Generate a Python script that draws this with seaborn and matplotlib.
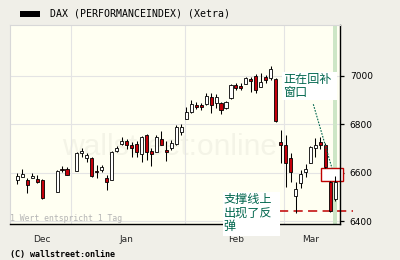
import numpy as np
import pandas as pd
import matplotlib
matplotlib.use("Agg")
import matplotlib.pyplot as plt
import seaborn as sns
from matplotlib.patches import Rectangle

# ---------------- data ----------------
dates = ["2006-12-15", "2006-12-18", "2006-12-19", "2006-12-20", "2006-12-21", "2006-12-22",
         "2006-12-27", "2006-12-28", "2006-12-29",
         "2007-01-02", "2007-01-03", "2007-01-04", "2007-01-05",
         "2007-01-08", "2007-01-09", "2007-01-10", "2007-01-11", "2007-01-12",
         "2007-01-15", "2007-01-16", "2007-01-17", "2007-01-18", "2007-01-19",
         "2007-01-22", "2007-01-23", "2007-01-24", "2007-01-25", "2007-01-26",
         "2007-01-29", "2007-01-30", "2007-01-31", "2007-02-01", "2007-02-02",
         "2007-02-05", "2007-02-06", "2007-02-07", "2007-02-08", "2007-02-09",
         "2007-02-12", "2007-02-13", "2007-02-14", "2007-02-15", "2007-02-16",
         "2007-02-19", "2007-02-20", "2007-02-21", "2007-02-22", "2007-02-23",
         "2007-02-26", "2007-02-27", "2007-02-28", "2007-03-01", "2007-03-02",
         "2007-03-05", "2007-03-06", "2007-03-07", "2007-03-08", "2007-03-09",
         "2007-03-12", "2007-03-13", "2007-03-14", "2007-03-15"]

opens = [6570, 6584, 6570, 6577, 6573, 6570,
         6521, 6615, 6614,
         6608, 6680, 6660, 6660,
         6608, 6611, 6577, 6570, 6690,
         6719, 6732, 6715, 6719, 6679,
         6754, 6691, 6687, 6741, 6694,
         6701, 6717, 6770, 6821, 6852,
         6880, 6878, 6884, 6913, 6890,
         6890, 6866, 6908, 6963, 6960,
         6967, 6986, 7002, 6955, 6995,
         6993, 6988, 6728, 6715, 6660,
         6505, 6556, 6602, 6639, 6703,
         6728, 6715, 6563, 6491]

highs = [6600, 6614, 6577, 6597, 6590, 6574,
         6611, 6628, 6625,
         6686, 6701, 6680, 6664,
         6632, 6632, 6590, 6691, 6712,
         6746, 6739, 6728, 6732, 6752,
         6758, 6701, 6756, 6774, 6732,
         6735, 6797, 6801, 6873, 6901,
         6894, 6890, 6928, 6928, 6926,
         6894, 6895, 6967, 6972, 6970,
         6997, 6997, 7010, 7011, 7004,
         7041, 6992, 6777, 6756, 6680,
         6563, 6611, 6635, 6712, 6745,
         6746, 6723, 6566, 6588]

lows = [6553, 6581, 6517, 6576, 6556, 6490,
        6520, 6604, 6591,
        6607, 6666, 6645, 6583,
        6577, 6604, 6528, 6569, 6687,
        6715, 6698, 6666, 6666, 6645,
        6652, 6628, 6686, 6715, 6648,
        6694, 6715, 6756, 6820, 6848,
        6862, 6860, 6882, 6848, 6868,
        6843, 6865, 6906, 6942, 6942,
        6966, 6935, 6930, 6953, 6972,
        6984, 6811, 6639, 6542, 6563,
        6432, 6535, 6583, 6638, 6666,
        6698, 6620, 6436, 6483]

closes = [6586, 6594, 6549, 6586, 6561, 6496,
          6607, 6610, 6592,
          6683, 6690, 6673, 6588,
          6602, 6622, 6563, 6687, 6701,
          6732, 6713, 6701, 6687, 6748,
          6684, 6677, 6749, 6716, 6686,
          6722, 6787, 6787, 6849, 6884,
          6873, 6871, 6917, 6878, 6913,
          6859, 6894, 6963, 6952, 6952,
          6990, 6979, 6940, 6976, 6985,
          7028, 6815, 6715, 6639, 6604,
          6532, 6593, 6615, 6708, 6715,
          6715, 6622, 6442, 6560]

month_starts = ["2007-01-01", "2007-02-01", "2007-03-01"]
month_labels = ["Dec", "Jan", "Feb", "Mar"]
month_label_dates = ["2006-12-22", "2007-01-16", "2007-02-15", "2007-03-08"]
y_ticks = [6400, 6600, 6800, 7000]

support_level = 6441
gap_top = 6620
gap_bottom = 6566
highlight_date = "2007-03-15"

title = "DAX (PERFORMANCEINDEX) (Xetra)"
note_gap = ["正在回补", "窗口"]
note_support = ["支撑线上", "出现了反", "弹"]

# ---------------- frame ----------------
df = pd.DataFrame({"date": pd.to_datetime(dates), "open": opens, "high": highs,
                   "low": lows, "close": closes})
origin = np.datetime64(dates[0], "D")
def idx(d):
    return float(np.busday_count(origin, np.datetime64(d, "D")))
df["x"] = [idx(d) for d in dates]
df["up"] = df["close"] >= df["open"]

sns.set_style("white")
plt.rcParams["font.family"] = ["DejaVu Sans"]

W, H = 400, 260
fig = plt.figure(figsize=(4, 2.6), dpi=100)
BG = "#f0efe8"
PBG = "#fffff2"
fig.patch.set_facecolor(BG)

def fx(px):
    return px / W
def fy(py):
    return 1 - py / H

ax = fig.add_axes([fx(10), fy(224), (340 - 10) / W, (224 - 25) / H])
ax.set_facecolor(PBG)

x0, x1 = -1.47, 64.94
ax.set_xlim(x0, x1)
ax.set_ylim(6387.6, 7211)

# grid
GRID = "#e4e4e4"
tick_x = [idx(d) - 0.25 for d in month_starts]
for t in tick_x:
    ax.axvline(t, color=GRID, lw=0.8, zorder=0.6)
for v in y_ticks:
    ax.axhline(v, color=GRID, lw=0.8, zorder=0.6)

# watermark
ax.text(0.1576, 0.3467, "wallstreet:online", transform=ax.transAxes,
        family="Liberation Sans", fontsize=21.6, color="#f4f4e7",
        va="baseline", ha="left", zorder=0.5)

# highlighted last day
hx = idx(highlight_date)
ax.axvspan(hx - 0.4, hx + 0.4, color="#cde6c6", lw=0, zorder=0.7)

# gap box
ax.add_patch(Rectangle((61.18, gap_bottom), 65.55 - 61.18, gap_top - gap_bottom,
                       facecolor="white", edgecolor="#c00000", lw=1.0,
                       zorder=2.5, clip_on=False))

# support line
ax.plot([46.8, 67.6], [support_level, support_level], color="#c00000", lw=1.1,
        dashes=(6, 3.5), zorder=2.4, clip_on=False)

# candles
ax.vlines(df["x"], df["low"], df["high"], color="black", lw=0.75, zorder=3)
bw = 0.62
body_bottom = np.minimum(df["open"], df["close"])
body_h = np.maximum(np.abs(df["close"] - df["open"]), 1.5)
colors = np.where(df["up"], "#ffffff", "#c4000b")
ax.bar(df["x"], body_h, bottom=body_bottom, width=bw, color=colors,
       edgecolor="black", linewidth=0.6, zorder=4)

# dotted pointer
ax.plot([59.57, 63.33], [6883, 6618], color="#00664d", lw=0.8,
        linestyle=(0, (1.5, 1.2)), zorder=5)

# axes styling
for s in ["top", "left"]:
    ax.spines[s].set_color("#d8d8d8")
    ax.spines[s].set_linewidth(0.8)
for s in ["bottom", "right"]:
    ax.spines[s].set_color("black")
    ax.spines[s].set_linewidth(1.0)
ax.yaxis.tick_right()
ax.set_yticks(y_ticks)
ax.set_yticklabels([str(v) for v in y_ticks])
ax.tick_params(axis="y", direction="out", length=3, width=0.9, pad=4,
               labelsize=6.5, colors="black", left=False, right=True)
ax.set_xticks(tick_x)
ax.set_xticklabels([])
ax.tick_params(axis="x", which="major", direction="out", length=3, width=0.9)
ax.set_xticks([idx(d) for d in month_label_dates], minor=True)
ax.set_xticklabels(month_labels, minor=True)
ax.tick_params(axis="x", which="minor", length=0, pad=8, labelsize=6.5)
ax.set_xlabel("")
ax.set_ylabel("")

ax.text(0.0, 0.03, "1 Wert entspricht 1 Tag", transform=ax.transAxes,
        family="DejaVu Sans Mono", fontsize=5.9, color="#b4b4b4",
        va="center", ha="left", zorder=2)

# title
fig.add_artist(Rectangle((fx(20), fy(16.7)), 20 / W, 6 / H, transform=fig.transFigure,
                         facecolor="black", edgecolor="none"))
fig.text(fx(50), fy(14), title, family="DejaVu Sans Mono", fontsize=7.1,
         va="center", ha="left", color="black")
fig.text(fx(10), fy(254), "(C) wallstreet:online", family="DejaVu Sans Mono",
         fontsize=6.0, fontweight="bold", va="center", ha="left", color="black")

# annotation boxes
CJK = ["Noto Sans CJK SC", "DejaVu Sans"]
TEAL = "#00664d"
fig.add_artist(Rectangle((fx(281.7), fy(100)), (337.3 - 281.7) / W, 28.3 / H,
                         transform=fig.transFigure, facecolor="white",
                         edgecolor="none", zorder=5))
for i, line in enumerate(note_gap):
    fig.text(fx(283), fy(79 + 13.8 * i), line, family=CJK, fontsize=8.7,
             color=TEAL, va="center", ha="left", zorder=6)

fig.add_artist(Rectangle((fx(222.7), fy(236)), (280 - 222.7) / W, 44.3 / H,
                         transform=fig.transFigure, facecolor="white",
                         edgecolor="none", zorder=5))
for i, line in enumerate(note_support):
    fig.text(fx(223.3), fy(199 + 13.8 * i), line, family=CJK, fontsize=8.7,
             color=TEAL, va="center", ha="left", zorder=6)

fig.savefig("out.png", dpi=100, facecolor=BG)
